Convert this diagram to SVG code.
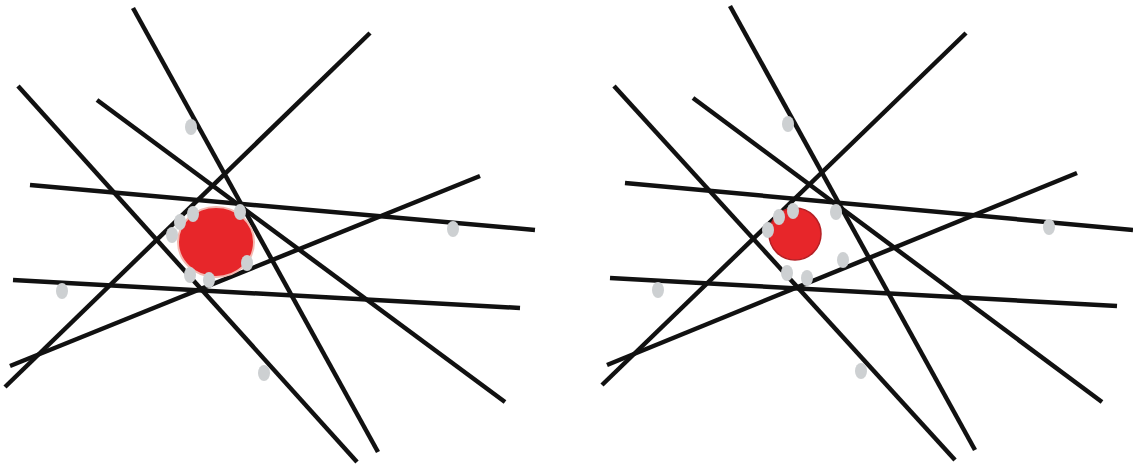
<svg xmlns="http://www.w3.org/2000/svg" width="1133" height="468" viewBox="0 0 1133 468">
<style>
.ln{stroke:#111;stroke-width:4.5;stroke-linecap:butt;fill:none}
.dot{fill:#cdd0d2}
.red{fill:#e7262a}
</style>
<rect width="1133" height="468" fill="#fff"/>
<g id="left-panel">
<g id="left-lines">
<line class="ln" x1="133" y1="8" x2="378" y2="452"/>
<line class="ln" x1="370" y1="33" x2="5" y2="387"/>
<line class="ln" x1="18" y1="86" x2="357" y2="462"/>
<line class="ln" x1="97" y1="100" x2="505" y2="402"/>
<line class="ln" x1="30" y1="185" x2="535" y2="230"/>
<line class="ln" x1="13" y1="280" x2="520" y2="308"/>
<line class="ln" x1="480" y1="176" x2="10" y2="366"/>
</g>
<ellipse class="red" cx="216" cy="242" rx="38" ry="35" stroke="#f4b8b0" stroke-width="2"/>
<g id="left-dots">
<ellipse class="dot" cx="191" cy="127" rx="6" ry="8"/>
<ellipse class="dot" cx="453" cy="229" rx="6" ry="8"/>
<ellipse class="dot" cx="62" cy="291" rx="6" ry="8"/>
<ellipse class="dot" cx="264" cy="373" rx="6" ry="8"/>
<ellipse class="dot" cx="193" cy="214" rx="6" ry="8"/>
<ellipse class="dot" cx="240" cy="212" rx="6" ry="8"/>
<ellipse class="dot" cx="180" cy="222" rx="6" ry="8"/>
<ellipse class="dot" cx="172" cy="235" rx="6" ry="8"/>
<ellipse class="dot" cx="247" cy="263" rx="6" ry="8"/>
<ellipse class="dot" cx="190" cy="275" rx="6" ry="8"/>
<ellipse class="dot" cx="209" cy="280" rx="6" ry="8"/>
</g>
</g>
<g id="right-panel">
<g id="right-lines">
<line class="ln" x1="730" y1="6" x2="975" y2="450"/>
<line class="ln" x1="966" y1="33" x2="602" y2="385"/>
<line class="ln" x1="614" y1="86" x2="955" y2="460"/>
<line class="ln" x1="693" y1="98" x2="1102" y2="402"/>
<line class="ln" x1="625" y1="183" x2="1133" y2="230"/>
<line class="ln" x1="610" y1="278" x2="1117" y2="306"/>
<line class="ln" x1="1077" y1="173" x2="607" y2="365"/>
</g>
<polygon points="790,205 838,210 845,262 806,280 786,274 766,232" fill="#fff"/>
<circle class="red" cx="795" cy="234" r="26" stroke="#b52025" stroke-width="1.5"/>
<g id="right-dots">
<ellipse class="dot" cx="788" cy="124" rx="6" ry="8"/>
<ellipse class="dot" cx="1049" cy="227" rx="6" ry="8"/>
<ellipse class="dot" cx="658" cy="290" rx="6" ry="8"/>
<ellipse class="dot" cx="861" cy="371" rx="6" ry="8"/>
<ellipse class="dot" cx="793" cy="211" rx="6" ry="8"/>
<ellipse class="dot" cx="779" cy="217" rx="6" ry="8"/>
<ellipse class="dot" cx="768" cy="230" rx="6" ry="8"/>
<ellipse class="dot" cx="836" cy="212" rx="6" ry="8"/>
<ellipse class="dot" cx="843" cy="260" rx="6" ry="8"/>
<ellipse class="dot" cx="787" cy="273" rx="6" ry="8"/>
<ellipse class="dot" cx="807" cy="278" rx="6" ry="8"/>
</g>
</g>
</svg>
